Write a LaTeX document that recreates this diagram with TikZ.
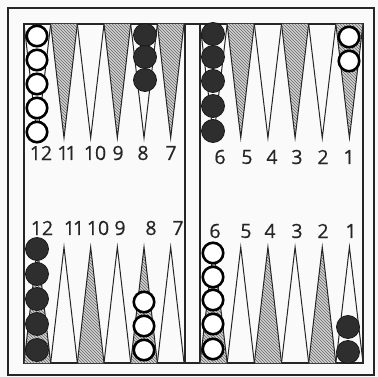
\documentclass[tikz,border=0pt]{standalone}
\usepackage{fontspec}
\setmainfont{Open Sans}
\newfontfamily\numfont{Open Sans}[FakeBold=0.6]
\usetikzlibrary{patterns}
\tikzset{
  frameline/.style={draw=black!85, line width=1.3pt},
  ptline/.style={draw=black!85, line width=1pt, line join=miter},
  hatched/.style={fill=gray!35, postaction={pattern=north west lines, pattern color=black!60}},
  wman/.style={circle, draw=black, line width=2.6pt, fill=white, minimum size=20.5pt, inner sep=0pt},
  bman/.style={circle, draw=black!90, line width=0.8pt, fill=black!82, minimum size=23pt, inner sep=0pt},
  numlab/.style={font=\numfont\fontsize{19.5}{19.5}\selectfont, inner sep=0pt, text=black!85}
}
\begin{document}
\begin{tikzpicture}[x=1pt, y=-1pt]
\useasboundingbox (0,0) rectangle (378,377);
\fill[white!96!gray] (0,0) rectangle (378,377);
% frames
\draw[frameline] (8,8) rectangle (374,375);
\draw[frameline] (24,24) rectangle (363,363);
\draw[frameline] (185,24) -- (185,363);
\draw[frameline] (200,24) -- (200,363);
% top-left points (12..7); shaded: 11, 9, 7
\foreach \i in {0,...,5} {
  \pgfmathsetmacro{\xa}{24+\i*26.67}
  \pgfmathsetmacro{\xb}{24+(\i+1)*26.67}
  \pgfmathsetmacro{\xc}{24+(\i+0.5)*26.67}
  \pgfmathtruncatemacro{\sh}{mod(\i,2)}
  \ifnum\sh=1
    \path[hatched] (\xa,24) -- (\xc,138) -- (\xb,24) -- cycle;
  \fi
  \draw[ptline] (\xa,24) -- (\xc,138) -- (\xb,24);
}
% top-right points (6..1); shaded: 5, 3, 1
\foreach \i in {0,...,5} {
  \pgfmathsetmacro{\xa}{200+\i*27.17}
  \pgfmathsetmacro{\xb}{200+(\i+1)*27.17}
  \pgfmathsetmacro{\xc}{200+(\i+0.5)*27.17}
  \pgfmathtruncatemacro{\sh}{mod(\i,2)}
  \ifnum\sh=1
    \path[hatched] (\xa,24) -- (\xc,138) -- (\xb,24) -- cycle;
  \fi
  \draw[ptline] (\xa,24) -- (\xc,138) -- (\xb,24);
}
% bottom-left points (12..7); shaded: 10, 8
\foreach \i in {0,...,5} {
  \pgfmathsetmacro{\xa}{24+\i*26.67}
  \pgfmathsetmacro{\xb}{24+(\i+1)*26.67}
  \pgfmathsetmacro{\xc}{24+(\i+0.5)*26.67}
  \pgfmathtruncatemacro{\sh}{mod(\i,2)}
  \ifnum\sh=0
    \path[hatched] (\xa,363) -- (\xc,247) -- (\xb,363) -- cycle;
  \fi
  \draw[ptline] (\xa,363) -- (\xc,247) -- (\xb,363);
}
% bottom-right points (6..1); shaded: 4, 2
\foreach \i in {0,...,5} {
  \pgfmathsetmacro{\xa}{200+\i*27.17}
  \pgfmathsetmacro{\xb}{200+(\i+1)*27.17}
  \pgfmathsetmacro{\xc}{200+(\i+0.5)*27.17}
  \pgfmathtruncatemacro{\sh}{mod(\i,2)}
  \ifnum\sh=0
    \path[hatched] (\xa,363) -- (\xc,247) -- (\xb,363) -- cycle;
  \fi
  \draw[ptline] (\xa,363) -- (\xc,247) -- (\xb,363);
}
% checkers: top-left point 12, five white
\foreach \y [count=\k] in {36,60,84,108,132} \node[wman] (tw12-\k) at (37,\y) {};
% top-left point 8, three black
\foreach \y [count=\k] in {35,57,80} \node[bman] (tb8-\k) at (145,\y) {};
% top-right point 6, five black
\foreach \y [count=\k] in {34,57,81,106,131} \node[bman] (tb6-\k) at (213,\y) {};
% top-right point 1, two white
\foreach \y [count=\k] in {37,61} \node[wman] (tw1-\k) at (349,\y) {};
% bottom-left point 12, five black
\foreach \y [count=\k] in {249,274,299,324,350} \node[bman] (bb12-\k) at (37,\y) {};
% bottom-left point 8, three white
\foreach \y [count=\k] in {302,326,350} \node[wman] (bw8-\k) at (144,\y) {};
% bottom-right point 6, five white
\foreach \y [count=\k] in {253,277,300,324,349} \node[wman] (bw6-\k) at (213,\y) {};
% bottom-right point 1, two black
\foreach \y [count=\k] in {327,352} \node[bman] (bb1-\k) at (348,\y) {};
% numbers
\node[numlab] (tl12) at (41,153) {12};
\node[numlab] (tl11) at (67,153) {1\kern-3pt 1};
\foreach \n/\x in {10/95,9/118,8/143,7/171} \node[numlab] (tl\n) at (\x,153) {\n};
\foreach \n/\x in {6/220,5/247,4/272,3/297,2/323,1/349} \node[numlab] (tr\n) at (\x,157) {\n};
\node[numlab] (bl12) at (42,228) {12};
\node[numlab] (bl11) at (74,228) {1\kern-2pt 1};
\foreach \n/\x in {10/98,9/120,8/151,7/178} \node[numlab] (bl\n) at (\x,228) {\n};
\foreach \n/\x in {6/215,5/246,4/270,3/297,2/323,1/351} \node[numlab] (br\n) at (\x,231) {\n};
\end{tikzpicture}
\end{document}
